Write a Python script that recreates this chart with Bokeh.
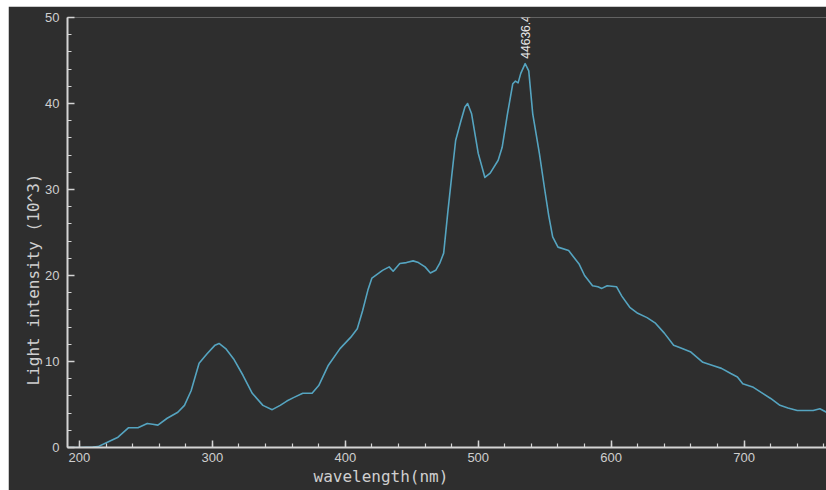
from math import pi

from bokeh.embed import file_html
from bokeh.models import Label, SingleIntervalTicker, Range1d, Title
from bokeh.plotting import figure
from bokeh.resources import INLINE

# Emission spectrum: wavelength (nm) vs light intensity (x10^3 counts)
wavelength = [
    190, 200, 210, 214, 221, 229, 237, 244, 251, 255, 259, 266, 274, 279, 284,
    290, 296, 302, 305, 310, 316, 323, 330, 338, 345, 351, 356, 361, 368, 375,
    380, 387, 396, 404, 409, 413, 417, 420, 428, 433, 436, 441, 446, 451, 455,
    460, 464, 468, 471, 474, 477, 480, 483, 487, 490, 492, 495, 500, 505, 509,
    515, 518, 522, 526, 528, 530, 532, 535.3, 538, 541, 546, 550, 553, 556, 560,
    568, 571, 576, 580, 586, 590, 593, 597, 604, 608, 614, 620, 627, 633, 640,
    647, 652, 660, 669, 677, 683, 690, 695, 699, 707, 714, 720, 727, 733, 740,
    746, 752, 757, 762,
]
intensity = [
    0.0, 0.0, 0.05, 0.1, 0.6, 1.2, 2.3, 2.3, 2.8, 2.7, 2.6, 3.4, 4.1, 4.9, 6.6,
    9.8, 10.9, 11.9, 12.1, 11.5, 10.3, 8.4, 6.3, 4.9, 4.4, 4.9, 5.4, 5.8, 6.3, 6.3,
    7.2, 9.5, 11.5, 12.8, 13.8, 15.9, 18.3, 19.7, 20.6, 21.0, 20.5, 21.4, 21.5, 21.7, 21.5,
    21.0, 20.3, 20.6, 21.4, 22.6, 27.2, 31.5, 35.7, 38.0, 39.6, 40.0, 38.8, 34.2, 31.4, 31.9,
    33.4, 34.9, 38.8, 42.3, 42.6, 42.4, 43.5, 44.6364, 43.8, 38.8, 34.2, 30.0, 27.0, 24.5, 23.3,
    22.9, 22.3, 21.3, 20.0, 18.8, 18.7, 18.5, 18.8, 18.7, 17.6, 16.3, 15.6, 15.1, 14.5, 13.3,
    11.9, 11.6, 11.1, 9.9, 9.5, 9.2, 8.6, 8.2, 7.4, 7.0, 6.3, 5.7, 4.9, 4.6, 4.3,
    4.3, 4.3, 4.5, 4.1,
]
peak_wavelength = 535.3
peak_value = 44636.4  # counts

BG = "#2e2e2e"
AXIS = "#d4d4d4"
TEXT = "#cfcfcf"

p = figure(
    width=818, height=484,
    x_range=Range1d(191, 762), y_range=Range1d(0, 50),
    output_backend="svg", toolbar_location=None,
    min_border_left=59, min_border_right=0, min_border_top=11, min_border_bottom=43,
)
p.margin = (6, 0, 0, 8)
p.background_fill_color = BG
p.border_fill_color = BG
p.outline_line_color = None
p.xgrid.visible = False
p.ygrid.visible = False

p.line(wavelength, intensity, line_color="#55a4c0", line_width=1.6,
       line_join="round")

for ax, interval in ((p.xaxis[0], 100), (p.yaxis[0], 10)):
    ax.ticker = SingleIntervalTicker(interval=interval, num_minor_ticks=5)
    ax.axis_line_color = AXIS
    ax.axis_line_width = 2
    ax.major_tick_line_color = AXIS
    ax.minor_tick_line_color = AXIS
    ax.major_tick_line_width = 1.5
    ax.minor_tick_line_width = 1.2
    ax.major_tick_in = 7
    ax.major_tick_out = 0
    ax.minor_tick_in = 4
    ax.minor_tick_out = 0
    ax.major_label_text_color = TEXT
    ax.major_label_text_font = "Liberation Sans"
    ax.major_label_text_font_size = "13px"
p.xaxis.major_label_standoff = 5
p.yaxis.major_label_standoff = 8

# Peak value annotation, drawn vertically above the maximum
p.add_layout(Label(
    x=peak_wavelength, y=peak_value / 1000, y_offset=5,
    text=f"{peak_value:.1f}", angle=pi / 2,
    text_align="left", text_baseline="middle",
    text_color="#e6e6e6", text_font="Liberation Sans", text_font_size="12px",
))

# Axis titles as side panels so they sit outside the plot frame
title_style = dict(text_color=TEXT, text_font="DejaVu Sans Mono",
                   text_font_size="16px", text_font_style="normal",
                   background_fill_color=None)
p.add_layout(Title(text="wavelength(nm)", align="left", offset=246,
                   standoff=0, **title_style), "below")
p.add_layout(Title(text="Light intensity (10^3)", align="left", offset=62,
                   standoff=0, **title_style), "left")

open("out.html", "w").write(file_html(p, INLINE))
